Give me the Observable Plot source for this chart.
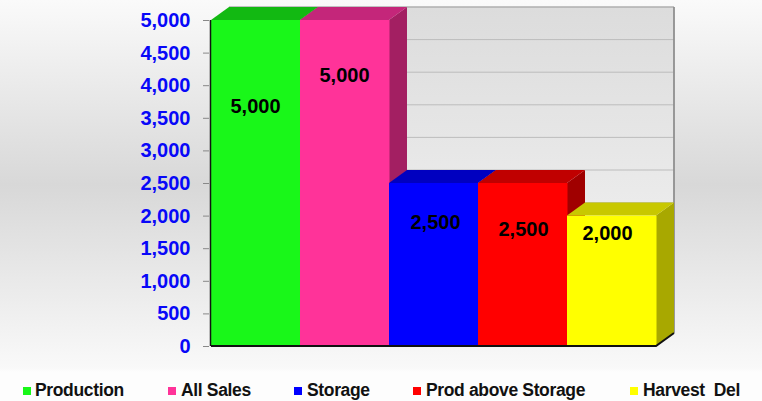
<!DOCTYPE html>
<html>
<head>
<meta charset="utf-8">
<script src="https://cdn.jsdelivr.net/npm/d3@7"></script>
<script src="https://cdn.jsdelivr.net/npm/@observablehq/plot@0.6"></script>
<style>
  html, body { margin: 0; padding: 0; }
  body { width: 762px; height: 401px; overflow: hidden; background: #fdfdfd;
         font-family: "Liberation Sans", Arial, sans-serif; }
  #chart { background: linear-gradient(to bottom, #fafafa 0px, #d8d8d8 185px, #f9f9f9 368px, #fdfdfd 372px); height: 372px; }
  #chart svg { display: block; }
  #legend { position: relative; height: 29px; }
  .sw { position: absolute; top: 15px; width: 8px; height: 8px; }
  .lb { position: absolute; top: 8px; font-size: 17.5px; font-weight: bold; color: #111;
        white-space: pre; letter-spacing: -0.35px; line-height: 20px; }
</style>
</head>
<body>
<div id="chart"></div>
<div id="legend"></div>
<script>
// ---- data ----
const categories = ["Production", "All Sales", "Storage", "Prod above Storage", "Harvest  Del"];
const values = [5000, 5000, 2500, 2500, 2000];
const yTicks = [0, 500, 1000, 1500, 2000, 2500, 3000, 3500, 4000, 4500, 5000];

// ---- styles ----
const frontColors = ["#19f719", "#ff3399", "#0000ff", "#ff0000", "#ffff00"];
const topColors   = ["#12b912", "#c4267a", "#0000c0", "#c00000", "#c8c800"];
const sideColors  = ["#0f9a0f", "#a31f62", "#00009a", "#a00000", "#a8a800"];
const DX = 18, DY = -13;
const labelDrop = [86, 55, 39, 46, 17];   // px below bar top for value labels
const labelShift = [0, 0, 2, 1, -4];      // px horizontal nudge for value labels
const legendLeft = [23, 168, 294, 413, 630];
const legendTextLeft = [35, 181, 307, 426, 643];

const data = categories.map((c, i) => ({category: c, value: values[i], i}));

function cubes(index, scales) {
  const x = scales.x, y = scales.y;
  const bw = x(categories[1]) - x(categories[0]);
  const x0 = x(categories[0]);
  const xEnd = x(categories[categories.length - 1]) + bw;
  const yb = y(0), yTop = y(5000);
  const g = d3.create("svg:g");
  const defs = g.append("defs");
  const grad = defs.append("linearGradient").attr("id", "wallGrad")
    .attr("x1", 0).attr("y1", 0).attr("x2", 0).attr("y2", 1);
  grad.append("stop").attr("offset", "0%").attr("stop-color", "#dcdcdc");
  grad.append("stop").attr("offset", "100%").attr("stop-color", "#f5f5f5");
  // back wall
  g.append("rect").attr("x", x0 + DX).attr("y", yTop + DY)
    .attr("width", xEnd - x0).attr("height", yb - yTop).attr("fill", "url(#wallGrad)");
  for (const t of yTicks) {
    g.append("line").attr("x1", x0 + DX).attr("x2", xEnd + DX)
      .attr("y1", y(t) + DY).attr("y2", y(t) + DY)
      .attr("stroke", "#bcbcbc").attr("stroke-width", 1);
  }
  g.append("line").attr("x1", x0 + DX).attr("x2", xEnd + DX)
    .attr("y1", yTop + DY).attr("y2", yTop + DY).attr("stroke", "#a8a8a8").attr("stroke-width", 1.2);
  g.append("line").attr("x1", xEnd + DX).attr("x2", xEnd + DX)
    .attr("y1", yTop + DY).attr("y2", yb + DY).attr("stroke", "#8f8f8f").attr("stroke-width", 1.8);
  // bars, painted left to right
  data.forEach((d, i) => {
    const xl = x(d.category), xr = xl + bw, yt = y(d.value);
    g.append("polygon")
      .attr("points", [[xr, yt], [xr + DX, yt + DY], [xr + DX, yb + DY], [xr, yb]].join(" "))
      .attr("fill", sideColors[i]);
    g.append("polygon")
      .attr("points", [[xl, yt], [xr, yt], [xr + DX, yt + DY], [xl + DX, yt + DY]].join(" "))
      .attr("fill", topColors[i]);
    g.append("rect").attr("x", xl).attr("y", yt).attr("width", bw + 0.5).attr("height", yb - yt)
      .attr("fill", frontColors[i]);
  });
  // base and axis lines
  g.append("polyline")
    .attr("points", [[x0, yb], [xEnd, yb], [xEnd + DX, yb + DY]].join(" "))
    .attr("fill", "none").attr("stroke", "#111").attr("stroke-width", 2);
  g.append("line").attr("x1", x0 - 0.5).attr("x2", x0 - 0.5).attr("y1", yTop).attr("y2", yb)
    .attr("stroke", "#111").attr("stroke-width", 1.5);
  // value labels centred on each bar
  data.forEach((d, i) => {
    g.append("text")
      .attr("x", x(d.category) + bw / 2 + labelShift[i])
      .attr("y", y(d.value) + labelDrop[i])
      .attr("dy", "0.35em")
      .attr("text-anchor", "middle")
      .attr("font-size", 20)
      .attr("font-weight", "bold")
      .attr("fill", "#000")
      .text(d3.format(",")(d.value));
  });
  return g.node();
}

const chart = Plot.plot({
  width: 762,
  height: 372,
  marginTop: 20,
  marginBottom: 26,
  marginLeft: 209,
  marginRight: 105,
  style: {background: "transparent", fontFamily: "'Liberation Sans', Arial, sans-serif", overflow: "visible"},
  x: {type: "band", domain: categories, padding: 0, axis: null},
  y: {domain: [0, 5000], axis: null},
  marks: [
    Plot.barY(data, {x: "category", y: "value", fill: "none"}),
    cubes,
    Plot.axisY({
      ticks: yTicks,
      tickFormat: d3.format(","),
      tickSize: 6,
      tickPadding: 13,
      fontSize: 20,
      fontWeight: "bold",
      stroke: "#888",
      fill: "#0808f8",
      label: null
    })
  ]
});
document.getElementById("chart").appendChild(chart);

const legend = d3.select("#legend");
categories.forEach((c, i) => {
  legend.append("div").attr("class", "sw")
    .style("left", legendLeft[i] + "px").style("background", frontColors[i]);
  legend.append("div").attr("class", "lb")
    .style("left", legendTextLeft[i] + "px").text(c);
});
</script>
</body>
</html>
